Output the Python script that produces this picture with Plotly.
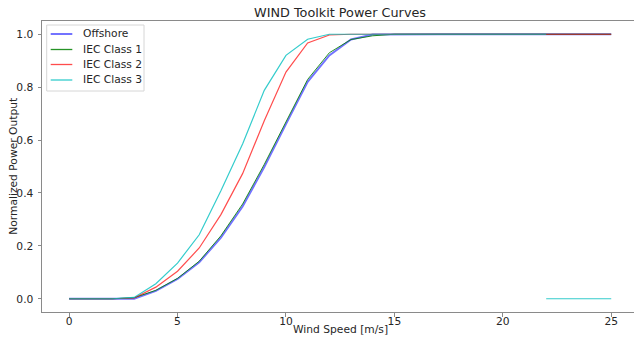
import plotly.graph_objects as go

wind_speed = list(range(0, 26))
offshore = [0, 0, 0, 0, 0.030, 0.075, 0.138, 0.231, 0.349, 0.498, 0.660, 0.820, 0.920, 0.980, 0.999,
            1, 1, 1, 1, 1, 1, 1, 1, 1, 1, 1]
iec_class1 = [0, 0, 0, 0.004, 0.032, 0.077, 0.142, 0.238, 0.358, 0.508, 0.668, 0.829, 0.930, 0.980, 0.994,
              1, 1, 1, 1, 1, 1, 1, 1, 1, 1, 1]
iec_class2 = [0, 0, 0, 0.003, 0.044, 0.104, 0.192, 0.318, 0.473, 0.673, 0.857, 0.967, 0.997, 1.0, 1.0,
              1, 1, 1, 1, 1, 1, 1, 1, 1, 1, 1]
# Class 3: cut-out at 22 m/s (curve is not connected across the drop)
iec_class3_x = list(range(0, 23)) + [None] + [22, 23, 24, 25]
iec_class3 = [0, 0, 0, 0.005, 0.057, 0.135, 0.242, 0.408, 0.585, 0.788, 0.920, 0.981, 1.0, 1.0, 1.0,
              1, 1, 1, 1, 1, 1, 1, 1] + [None] + [0, 0, 0, 0]

series_names = ["Offshore", "IEC Class 1", "IEC Class 2", "IEC Class 3"]
title = "WIND Toolkit Power Curves"
x_label = "Wind Speed [m/s]"
y_label = "Normalized Power Output"
x_ticks = [0, 5, 10, 15, 20, 25]
y_ticks = [0.0, 0.2, 0.4, 0.6, 0.8, 1.0]

FONT = "DejaVu Sans"
TXT = "#262626"
SPINE = "#8a8a8a"
W, H = 634, 337
ML, MR, MT, MB = 42, 0, 21, 25
PW, PH = W - ML - MR, H - MT - MB

styles = [
    dict(color="rgba(0,0,255,0.55)", width=2),
    dict(color="rgba(0,128,0,0.85)", width=1),
    dict(color="rgba(255,0,0,0.7)", width=1.2),
    dict(color="rgba(0,191,191,0.8)", width=1.2),
]


def px(xp):
    return (xp - ML) / PW


def py(yp):
    return (MT + PH - yp) / PH


fig = go.Figure()
xs = [wind_speed, wind_speed, wind_speed, iec_class3_x]
ys = [offshore, iec_class1, iec_class2, iec_class3]
for name, x, y, st in zip(series_names, xs, ys, styles):
    fig.add_trace(go.Scatter(x=x, y=y, mode="lines", name=name, line=st,
                             connectgaps=False, showlegend=False))

# legend drawn in matplotlib style (compact rows)
shapes = [dict(type="rect", xref="paper", yref="paper",
               x0=px(46.7), x1=px(144), y0=py(91), y1=py(25),
               line=dict(color="#d6d6d6", width=1), fillcolor="rgba(255,255,255,0.85)",
               layer="above")]
annotations = []
row_y = [34, 49.5, 64.5, 80]
for name, st, yy in zip(series_names, styles, row_y):
    shapes.append(dict(type="line", xref="paper", yref="paper",
                       x0=px(50.7), x1=px(72.3), y0=py(yy), y1=py(yy),
                       line=dict(color=st["color"], width=max(st["width"], 1.3)), layer="above"))
    annotations.append(dict(text=name, xref="paper", yref="paper", x=px(80.5), y=py(yy),
                            xanchor="left", yanchor="middle", showarrow=False,
                            font=dict(size=10.7, family=FONT, color=TXT)))

annotations.append(dict(text=x_label, xref="paper", yref="paper", x=px(340), y=py(329.5),
                        xanchor="center", yanchor="middle", showarrow=False,
                        font=dict(size=10.7, family=FONT, color=TXT)))
annotations.append(dict(text=y_label, xref="paper", yref="paper", x=px(12.7), y=py(166),
                        xanchor="center", yanchor="middle", showarrow=False, textangle=-90,
                        font=dict(size=10.7, family=FONT, color=TXT)))

fig.update_layout(
    width=W, height=H,
    margin=dict(l=ML, r=MR, t=MT, b=MB, pad=0),
    paper_bgcolor="white", plot_bgcolor="white",
    font=dict(family=FONT, size=10.7, color=TXT),
    title=dict(text=title, x=px(340), xref="paper", xanchor="center",
               y=1 - 12.5 / H, yref="container", yanchor="middle",
               font=dict(size=12.8, family=FONT, color=TXT)),
    showlegend=False,
    shapes=shapes,
    annotations=annotations,
)
fig.update_xaxes(
    range=[-1.25, 26.05], tickvals=x_ticks, ticktext=[str(v) for v in x_ticks],
    showgrid=False, zeroline=False, showline=True, linecolor=SPINE, linewidth=1,
    mirror=True, ticks="outside", ticklen=3.5, tickcolor=SPINE, tickwidth=1,
    tickfont=dict(size=10.7, family=FONT, color=TXT), ticklabelstandoff=-4,
    automargin=False,
)
fig.update_yaxes(
    range=[-0.05, 1.05], tickvals=y_ticks, ticktext=[f"{v:.1f}" for v in y_ticks],
    showgrid=False, zeroline=False, showline=True, linecolor=SPINE, linewidth=1,
    mirror=False, ticks="outside", ticklen=3.5, tickcolor=SPINE, tickwidth=1,
    tickfont=dict(size=10.7, family=FONT, color=TXT), ticklabelstandoff=2,
    automargin=False,
)

fig.write_html("out.html")
